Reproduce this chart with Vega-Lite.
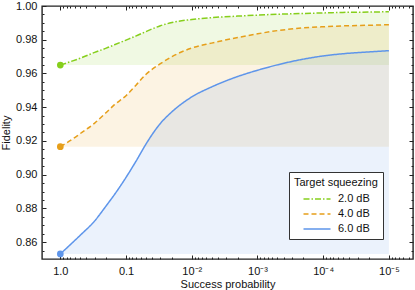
{
  "$schema": "https://vega.github.io/schema/vega-lite/v6.json",
  "width": 371,
  "height": 253,
  "autosize": "none",
  "padding": {"left": 42, "top": 6, "right": 2, "bottom": 31},
  "background": "white",
  "config": {
    "view": {"stroke": "#222", "strokeWidth": 1.4},
    "font": "Liberation Sans",
    "axis": {"labelFont": "Liberation Sans", "titleFont": "Liberation Sans", "labelFontSize": 11, "titleFontSize": 11, "titleFontWeight": "normal", "labelColor": "#111", "titleColor": "#111", "domain": false, "grid": false, "tickColor": "#222", "tickWidth": 1},
    "legend": {"labelFont": "Liberation Sans", "titleFont": "Liberation Sans"}
  },
  "data": {
    "values": [
      {"p": 1, "F": 0.965, "s": "2.0 dB"},
      {"p": 0.7, "F": 0.967, "s": "2.0 dB"},
      {"p": 0.5, "F": 0.969, "s": "2.0 dB"},
      {"p": 0.3, "F": 0.9725, "s": "2.0 dB"},
      {"p": 0.2, "F": 0.975, "s": "2.0 dB"},
      {"p": 0.15, "F": 0.977, "s": "2.0 dB"},
      {"p": 0.1, "F": 0.9798, "s": "2.0 dB"},
      {"p": 0.07, "F": 0.9823, "s": "2.0 dB"},
      {"p": 0.05, "F": 0.9848, "s": "2.0 dB"},
      {"p": 0.03, "F": 0.9883, "s": "2.0 dB"},
      {"p": 0.02, "F": 0.9902, "s": "2.0 dB"},
      {"p": 0.01, "F": 0.992, "s": "2.0 dB"},
      {"p": 0.005, "F": 0.9931, "s": "2.0 dB"},
      {"p": 0.002, "F": 0.994, "s": "2.0 dB"},
      {"p": 0.001, "F": 0.9946, "s": "2.0 dB"},
      {"p": 0.0005, "F": 0.9951, "s": "2.0 dB"},
      {"p": 0.0002, "F": 0.9956, "s": "2.0 dB"},
      {"p": 0.0001, "F": 0.9959, "s": "2.0 dB"},
      {"p": 0.00005, "F": 0.9962, "s": "2.0 dB"},
      {"p": 0.00002, "F": 0.9964, "s": "2.0 dB"},
      {"p": 0.00001, "F": 0.9966, "s": "2.0 dB"},
      {"p": 1, "F": 0.9166, "s": "4.0 dB"},
      {"p": 0.7, "F": 0.9203, "s": "4.0 dB"},
      {"p": 0.5, "F": 0.9243, "s": "4.0 dB"},
      {"p": 0.3, "F": 0.9306, "s": "4.0 dB"},
      {"p": 0.2, "F": 0.9369, "s": "4.0 dB"},
      {"p": 0.15, "F": 0.9415, "s": "4.0 dB"},
      {"p": 0.1, "F": 0.9468, "s": "4.0 dB"},
      {"p": 0.07, "F": 0.9532, "s": "4.0 dB"},
      {"p": 0.05, "F": 0.9594, "s": "4.0 dB"},
      {"p": 0.03, "F": 0.9658, "s": "4.0 dB"},
      {"p": 0.02, "F": 0.97, "s": "4.0 dB"},
      {"p": 0.01, "F": 0.9751, "s": "4.0 dB"},
      {"p": 0.005, "F": 0.978, "s": "4.0 dB"},
      {"p": 0.002, "F": 0.9813, "s": "4.0 dB"},
      {"p": 0.001, "F": 0.9835, "s": "4.0 dB"},
      {"p": 0.0005, "F": 0.9854, "s": "4.0 dB"},
      {"p": 0.0002, "F": 0.987, "s": "4.0 dB"},
      {"p": 0.0001, "F": 0.9877, "s": "4.0 dB"},
      {"p": 0.00005, "F": 0.9882, "s": "4.0 dB"},
      {"p": 0.00002, "F": 0.9886, "s": "4.0 dB"},
      {"p": 0.00001, "F": 0.9889, "s": "4.0 dB"},
      {"p": 1, "F": 0.853, "s": "6.0 dB"},
      {"p": 0.7, "F": 0.8586, "s": "6.0 dB"},
      {"p": 0.5, "F": 0.864, "s": "6.0 dB"},
      {"p": 0.3, "F": 0.8726, "s": "6.0 dB"},
      {"p": 0.2, "F": 0.8816, "s": "6.0 dB"},
      {"p": 0.15, "F": 0.8882, "s": "6.0 dB"},
      {"p": 0.1, "F": 0.8984, "s": "6.0 dB"},
      {"p": 0.07, "F": 0.9082, "s": "6.0 dB"},
      {"p": 0.05, "F": 0.918, "s": "6.0 dB"},
      {"p": 0.03, "F": 0.9304, "s": "6.0 dB"},
      {"p": 0.02, "F": 0.9373, "s": "6.0 dB"},
      {"p": 0.01, "F": 0.9461, "s": "6.0 dB"},
      {"p": 0.005, "F": 0.952, "s": "6.0 dB"},
      {"p": 0.002, "F": 0.9582, "s": "6.0 dB"},
      {"p": 0.001, "F": 0.9619, "s": "6.0 dB"},
      {"p": 0.0005, "F": 0.9651, "s": "6.0 dB"},
      {"p": 0.0002, "F": 0.9685, "s": "6.0 dB"},
      {"p": 0.0001, "F": 0.9704, "s": "6.0 dB"},
      {"p": 0.00005, "F": 0.9717, "s": "6.0 dB"},
      {"p": 0.00002, "F": 0.9728, "s": "6.0 dB"},
      {"p": 0.00001, "F": 0.9735, "s": "6.0 dB"}
    ]
  },
  "transform": [
    {"joinaggregate": [{"op": "min", "field": "F", "as": "base"}], "groupby": ["s"]}
  ],
  "resolve": {"axis": {"x": "independent", "y": "independent"}},
  "layer": [
    {
      "mark": {"type": "area", "interpolate": "monotone", "fillOpacity": 0.12, "clip": true},
      "encoding": {
        "x": {
          "field": "p", "type": "quantitative",
          "scale": {"type": "log", "domain": [0.0000043, 1.9], "reverse": true, "nice": false},
          "axis": {
            "orient": "bottom",
            "title": "Success probability",
            "titlePadding": 2,
            "values": [0.000005,0.000006,0.000007,0.000008,0.000009,0.00001,0.00002,0.00003,0.00004,0.00005,0.00006,0.00007,0.00008,0.00009,0.0001,0.0002,0.0003,0.0004,0.0005,0.0006,0.0007,0.0008,0.0009,0.001,0.002,0.003,0.004,0.005,0.006,0.007,0.008,0.009,0.01,0.02,0.03,0.04,0.05,0.06,0.07,0.08,0.09,0.1,0.2,0.3,0.4,0.5,0.6,0.7,0.8,0.9,1],
            "tickSize": {"condition": {"test": "abs(log(datum.value)/LN10 - round(log(datum.value)/LN10)) < 0.001", "value": -4}, "value": -2},
            "labelPadding": 10,
            "labelExpr": "abs(log(datum.value)/LN10 - round(log(datum.value)/LN10)) > 0.001 ? '' : datum.value > 0.5 ? '1.0' : datum.value > 0.05 ? '0.1' : '10' + ['','','⁻²','⁻³','⁻⁴','⁻⁵','⁻⁶'][round(-log(datum.value)/LN10)]"
          }
        },
        "y": {
          "field": "F", "type": "quantitative",
          "scale": {"domain": [0.85, 1.0], "nice": false, "zero": false},
          "axis": {
            "orient": "left",
            "title": "Fidelity",
            "titlePadding": 4,
            "values": [0.855,0.86,0.865,0.87,0.875,0.88,0.885,0.89,0.895,0.9,0.905,0.91,0.915,0.92,0.925,0.93,0.935,0.94,0.945,0.95,0.955,0.96,0.965,0.97,0.975,0.98,0.985,0.99,0.995,1.0],
            "tickSize": {"condition": {"test": "abs(datum.value*50 - round(datum.value*50)) < 0.001", "value": -4}, "value": -2},
            "labelPadding": 9,
            "labelExpr": "abs(datum.value*50 - round(datum.value*50)) < 0.001 ? format(datum.value, '.2f') : ''"
          }
        },
        "y2": {"field": "base"},
        "fill": {
          "field": "s", "type": "nominal",
          "scale": {"range": ["#86cf1c", "#e69f1a", "#5e95ea"]},
          "legend": null
        }
      }
    },
    {
      "mark": {"type": "line", "interpolate": "monotone", "strokeWidth": 1.5},
      "encoding": {
        "x": {
          "field": "p", "type": "quantitative",
          "axis": {
            "orient": "top", "title": null, "labels": false,
            "values": [0.000005,0.000006,0.000007,0.000008,0.000009,0.00001,0.00002,0.00003,0.00004,0.00005,0.00006,0.00007,0.00008,0.00009,0.0001,0.0002,0.0003,0.0004,0.0005,0.0006,0.0007,0.0008,0.0009,0.001,0.002,0.003,0.004,0.005,0.006,0.007,0.008,0.009,0.01,0.02,0.03,0.04,0.05,0.06,0.07,0.08,0.09,0.1,0.2,0.3,0.4,0.5,0.6,0.7,0.8,0.9,1],
            "tickSize": {"condition": {"test": "abs(log(datum.value)/LN10 - round(log(datum.value)/LN10)) < 0.001", "value": -4}, "value": -2}
          }
        },
        "y": {
          "field": "F", "type": "quantitative",
          "axis": {
            "orient": "right", "title": null, "labels": false,
            "values": [0.855,0.86,0.865,0.87,0.875,0.88,0.885,0.89,0.895,0.9,0.905,0.91,0.915,0.92,0.925,0.93,0.935,0.94,0.945,0.95,0.955,0.96,0.965,0.97,0.975,0.98,0.985,0.99,0.995,1.0],
            "tickSize": {"condition": {"test": "abs(datum.value*50 - round(datum.value*50)) < 0.001", "value": -4}, "value": -2}
          }
        },
        "color": {
          "field": "s", "type": "nominal",
          "scale": {"domain": ["2.0 dB", "4.0 dB", "6.0 dB"], "range": ["#86cf1c", "#e69f1a", "#5e95ea"]},
          "legend": {
            "title": "Target squeezing",
            "orient": "none", "legendX": 247, "legendY": 166,
            "strokeColor": "#333", "fillColor": "white",
            "padding": 5, "titleFontSize": 11, "titleFontWeight": "normal", "titleColor": "#111",
            "labelFontSize": 11, "labelColor": "#111",
            "symbolType": "M-2.25,0H2.25", "symbolSize": 144, "symbolStrokeWidth": 1.5,
            "symbolOffset": 16, "rowPadding": 3, "titlePadding": 4, "labelOffset": 14
          }
        },
        "strokeDash": {
          "field": "s", "type": "nominal",
          "scale": {"domain": ["2.0 dB", "4.0 dB", "6.0 dB"], "range": [[6, 2, 1.5, 2], [5, 3], [1, 0]]},
          "legend": {
            "title": "Target squeezing",
            "orient": "none", "legendX": 247, "legendY": 166
          }
        }
      }
    },
    {
      "transform": [{"filter": "datum.p == 1"}],
      "mark": {"type": "point", "filled": true, "size": 45, "opacity": 1},
      "encoding": {
        "x": {"field": "p", "type": "quantitative", "axis": null},
        "y": {"field": "F", "type": "quantitative", "axis": null},
        "fill": {"field": "s", "type": "nominal", "legend": null}
      }
    }
  ]
}
